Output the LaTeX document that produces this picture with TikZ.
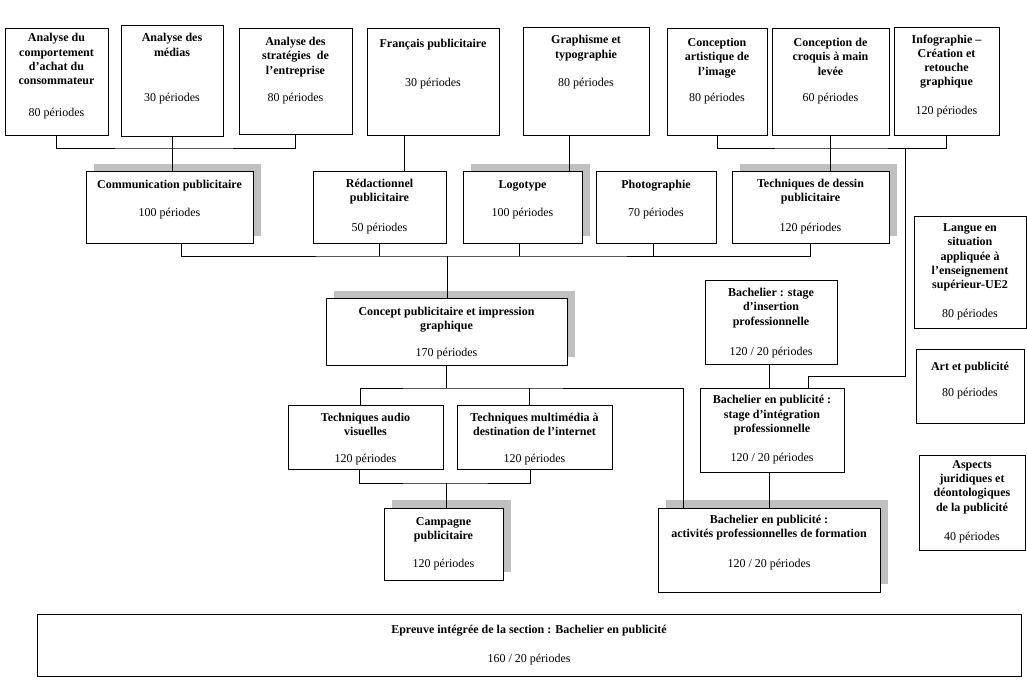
\documentclass[tikz,border=0pt]{standalone}
\usepackage{fontspec}
\setmainfont{Liberation Serif}
\usetikzlibrary{shadows,calc}
\definecolor{shad}{RGB}{192,192,192}
\tikzset{
  boxst/.style={draw=black,line width=1pt,fill=white,rectangle,inner sep=0pt,outer sep=0pt},
  shbox/.style={general shadow={fill=shad,shadow xshift=8pt,shadow yshift=8pt}},
  ttl/.style={anchor=north,yshift=8.6pt,align=center,inner sep=0pt,font=\fontsize{12}{14.2}\selectfont\bfseries,execute at begin node=\strut},
  per/.style={anchor=base,inner sep=0pt,font=\fontsize{12}{14.2}\selectfont},
  ln/.style={draw=black,line width=0.8pt}
}
\newcommand\cbox[6][]{%
  \pgfmathsetmacro\cx{(#3+#5)/2}\pgfmathsetmacro\cy{(#4+#6)/2}%
  \pgfmathsetmacro\cw{#5-#3}\pgfmathsetmacro\ch{#6-#4}%
  \node[boxst,#1,minimum width=\cw pt,minimum height=\ch pt] (#2) at (\cx,\cy) {};}
\begin{document}
\begin{tikzpicture}[x=1pt,y=-1pt]
\useasboundingbox (0,0) rectangle (1027,684);
% boxes
\cbox{an1}{5}{29}{108}{136}
\cbox{an2}{121}{26}{223}{137}
\cbox{an3}{239}{29}{352}{135}
\cbox{fr}{367}{29}{499}{136}
\cbox{gr}{523}{28}{649}{136}
\cbox{ca}{667}{29}{767}{136}
\cbox{cr}{772}{29}{889}{136}
\cbox{inf}{894}{28}{999}{136}
\cbox[shbox]{comm}{86}{172}{253}{244}
\cbox{red}{313}{172}{446}{244}
\cbox[shbox]{logo}{463}{172}{582}{244}
\cbox{photo}{596}{172}{716}{244}
\cbox[shbox]{td}{732}{172}{889}{244}
\cbox[shbox]{concept}{326}{299}{567}{365}
\cbox{audio}{288}{405}{443}{469}
\cbox{multi}{457}{405}{612}{469}
\cbox[shbox]{camp}{384}{508}{503}{580}
\cbox{ins}{705}{281}{837}{364}
\cbox{integ}{700}{388}{844}{472}
\cbox[shbox]{act}{658}{508}{880}{592}
\cbox{langue}{914}{217}{1026}{328}
\cbox{art}{916}{349}{1024}{423}
\cbox{asp}{919}{455}{1025}{550}
\cbox{epr}{37}{614}{1021}{676}
% texts
\node[ttl] (an1t) at (56.5,42) {Analyse du\\comportement\\d’achat du\\consommateur};
\node[per] (an1p) at (56.5,117) {80 périodes};
\node[ttl] (an2t) at (172,42) {Analyse des\\médias};
\node[per] (an2p) at (172,102) {30 périodes};
\node[ttl] (an3t) at (295.5,45.7) {Analyse des\\stratégies~ de\\l’entreprise};
\node[per] (an3p) at (295.5,102) {80 périodes};
\node[ttl] (frt) at (433,45.7) {Français publicitaire};
\node[per] (frp) at (433,87) {30 périodes};
\node[ttl] (grt) at (586,44) {Graphisme et\\typographie};
\node[per] (grp) at (586,87) {80 périodes};
\node[ttl] (cat) at (717,46.7) {Conception\\artistique de\\l’image};
\node[per] (cap) at (717,102) {80 périodes};
\node[ttl] (crt) at (830.5,46.7) {Conception de\\croquis à main\\levée};
\node[per] (crp) at (830.5,102) {60 périodes};
\node[ttl] (inft) at (946.5,43.3) {Infographie –\\Création et\\retouche\\graphique};
\node[per] (infp) at (946.5,114.7) {120 périodes};
\node[ttl] (commt) at (169.5,187.3) {Communication publicitaire};
\node[per] (commp) at (169.5,216.7) {100 périodes};
\node[ttl] (redt) at (379.5,187.3) {Rédactionnel\\publicitaire};
\node[per] (redp) at (379.5,231.3) {50 périodes};
\node[ttl] (logot) at (522.5,187.3) {Logotype};
\node[per] (logop) at (522.5,216.7) {100 périodes};
\node[ttl] (photot) at (656,187.3) {Photographie};
\node[per] (photop) at (656,216.7) {70 périodes};
\node[ttl] (tdt) at (810.5,187.3) {Techniques de dessin\\publicitaire};
\node[per] (tdp) at (810.5,231.3) {120 périodes};
\node[ttl] (conceptt) at (446.5,315.7) {Concept publicitaire et impression\\graphique};
\node[per] (conceptp) at (446.5,356.7) {170 périodes};
\node[ttl] (audiot) at (365.5,421.3) {Techniques audio\\visuelles};
\node[per] (audiop) at (365.5,462.3) {120 périodes};
\node[ttl] (multit) at (534.5,421.3) {Techniques multimédia à\\destination de l’internet};
\node[per] (multip) at (534.5,462.3) {120 périodes};
\node[ttl] (campt) at (443.5,525.7) {Campagne\\publicitaire};
\node[per] (campp) at (443.5,567.3) {120 périodes};
\node[ttl] (inst) at (771,296.7) {Bachelier : stage\\d’insertion\\professionnelle};
\node[per] (insp) at (771,355.7) {120 / 20 périodes};
\node[ttl] (integt) at (772,404) {Bachelier en publicité :\\stage d’intégration\\professionnelle};
\node[per] (integp) at (772,461.3) {120 / 20 périodes};
\node[ttl] (actt) at (769,523.3) {Bachelier en publicité :\\activités professionnelles de formation};
\node[per] (actp) at (769,567.3) {120 / 20 périodes};
\node[ttl] (languet) at (970,232.3) {Langue en\\situation\\appliquée à\\l’enseignement\\supérieur-UE2};
\node[per] (languep) at (970,317.3) {80 périodes};
\node[ttl] (artt) at (970,369) {Art et publicité};
\node[per] (artp) at (970,396.7) {80 périodes};
\node[ttl] (aspt) at (972,469) {Aspects\\juridiques et\\déontologiques\\de la publicité};
\node[per] (aspp) at (972,540.7) {40 périodes};
\node[ttl] (eprt) at (529,632) {Epreuve intégrée de la section : Bachelier en publicité};
\node[per] (eprp) at (529,662) {160 / 20 périodes};
% junctions
\coordinate (j1) at (172,148);
\coordinate (j2) at (831,148);
\coordinate (j3) at (905,148);
\coordinate (j4) at (905,376);
\coordinate (j5) at (447,256);
\coordinate (j6) at (445,388);
\coordinate (j7) at (446,483);
% connectors
\draw[ln] (an1.south) |- (j1) -| (an3.south);
\draw[ln] (an2.south) -- (an2.south |- comm.north);
\draw[ln] ([xshift=-29pt]fr.south) -- ([xshift=-29pt]fr.south |- red.north);
\draw[ln] ([xshift=-17pt]gr.south) -- ([xshift=-17pt]gr.south |- logo.north);
\draw[ln] (ca.south) |- (j2) -| (inf.south);
\draw[ln] (cr.south) -- (cr.south |- td.north);
\draw[ln] (j3) -- (j4) -| ([xshift=36pt]integ.north);
\draw[ln] ([xshift=11.5pt]comm.south) |- (j5) -| (td.south);
\draw[ln] (red.south) -- (red.south |- j5);
\draw[ln] ([xshift=-3.5pt]logo.south) -- ([xshift=-3.5pt]logo.south |- j5);
\draw[ln] ([xshift=-3pt]photo.south) -- ([xshift=-3pt]photo.south |- j5);
\draw[ln] (j5) -- (j5 |- concept.north);
\draw[ln] (concept.south) -- (concept.south |- j6);
\draw[ln] ([xshift=-5.5pt]audio.north) |- (j6) -| ([xshift=-86pt]act.north);
\draw[ln] ([xshift=-5.5pt]multi.north) -- ([xshift=-5.5pt]multi.north |- j6);
\draw[ln] ([xshift=-6.5pt]audio.south) |- (j7) -| ([xshift=-4.5pt]multi.south);
\draw[ln] (j7) -- (j7 |- camp.north);
\draw[ln] ([xshift=-2pt]ins.south) -- ([xshift=-2pt]ins.south |- integ.north);
\draw[ln] ([xshift=-3pt]integ.south) -- ([xshift=-3pt]integ.south |- act.north);
\end{tikzpicture}
\end{document}
